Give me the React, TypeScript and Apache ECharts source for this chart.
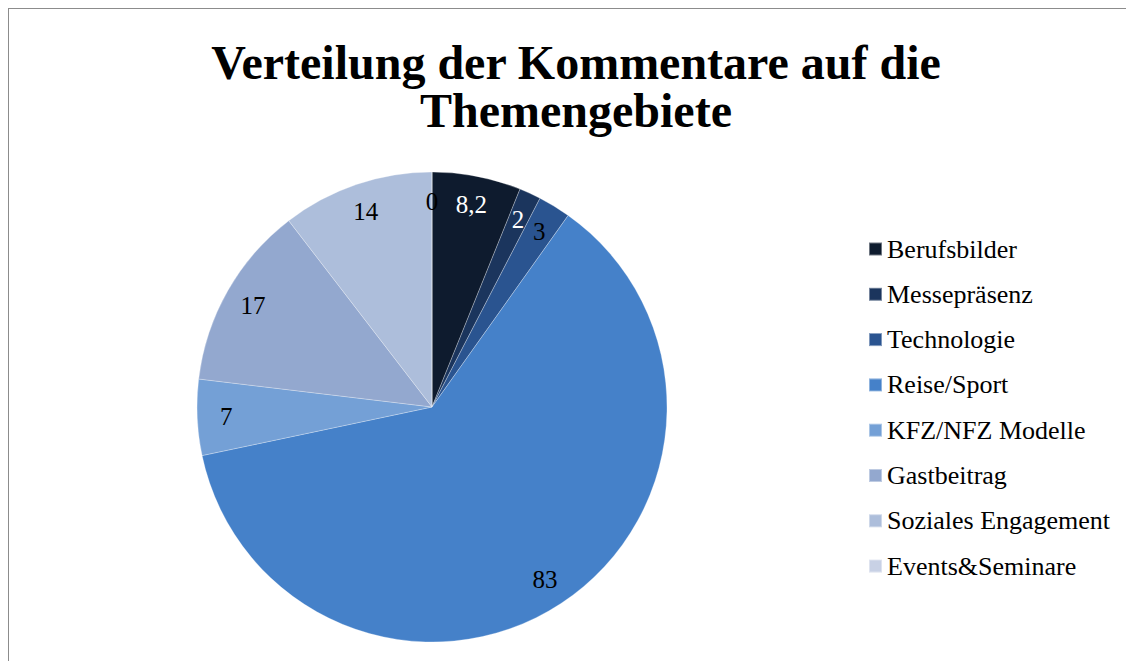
import React, { useEffect, useRef } from "react";
import * as echarts from "echarts";

const categories = [
  "Berufsbilder",
  "Messepräsenz",
  "Technologie",
  "Reise/Sport",
  "KFZ/NFZ Modelle",
  "Gastbeitrag",
  "Soziales Engagement",
  "Events&Seminare",
];
const values = [8.2, 2, 3, 83, 7, 17, 14, 0];
const valueLabels = ["8,2", "2", "3", "83", "7", "17", "14", "0"];
const titleLines = ["Verteilung der Kommentare auf die", "Themengebiete"];
const palette = ["#0e1b2e", "#1b355d", "#2a5490", "#4581c9", "#74a0d6", "#93a8cf", "#adbedb", "#c8d1e5"];
const labelColors = ["#ffffff", "#ffffff", "#000000", "#000000", "#000000", "#000000", "#000000", "#000000"];

const FONT = "Liberation Serif";

export default function App() {
  const ref = useRef<HTMLDivElement>(null);
  useEffect(() => {
    if (!ref.current) return;
    const chart = echarts.init(ref.current, undefined, { renderer: "svg" });
    const pieData = categories.map((name, i) => ({
      name,
      value: values[i],
      itemStyle: { color: palette[i] },
    }));
    const labelData = categories.map((name, i) => ({
      name,
      value: values[i],
      label: { formatter: valueLabels[i], color: labelColors[i] },
    }));
    const titleTops = [25, 73];
    chart.setOption({
      animation: false,
      title: titleLines.map((t, i) => ({
        text: t,
        left: 562,
        textAlign: "center",
        top: titleTops[i],
        textStyle: {
          fontFamily: FONT,
          fontWeight: "bold",
          fontSize: 48,
          lineHeight: 46,
          color: "#000",
        },
      })),
      legend: {
        orient: "vertical",
        left: 854,
        top: 222,
        itemWidth: 13,
        itemHeight: 13,
        itemGap: 19.3,
        icon: "rect",
        data: categories,
        textStyle: {
          fontFamily: FONT,
          fontSize: 26,
          lineHeight: 26,
          color: "#000",
        },
      },
      series: [
        {
          type: "pie",
          name: "main",
          center: [423, 398],
          radius: [0, 235],
          startAngle: 90,
          clockwise: true,
          data: pieData,
          label: { show: false },
          labelLine: { show: false },
          itemStyle: { borderColor: "rgba(255,255,255,0.4)", borderWidth: 0.7 },
          silent: true,
        },
        {
          type: "pie",
          name: "labels",
          center: [423, 398],
          radius: [171, 235],
          startAngle: 90,
          clockwise: true,
          data: labelData,
          itemStyle: { color: "rgba(0,0,0,0)" },
          label: {
            show: true,
            position: "inside",
            fontFamily: FONT,
            fontSize: 25,
          },
          labelLine: { show: false },
          silent: true,
          legendHoverLink: false,
        },
      ],
    });
    return () => chart.dispose();
  }, []);
  return (
    <div
      style={{
        width: 1122,
        height: 660,
        border: "1px solid #8c8c8c",
        background: "#fff",
      }}
    >
      <div ref={ref} style={{ width: 1122, height: 660 }} />
    </div>
  );
}
